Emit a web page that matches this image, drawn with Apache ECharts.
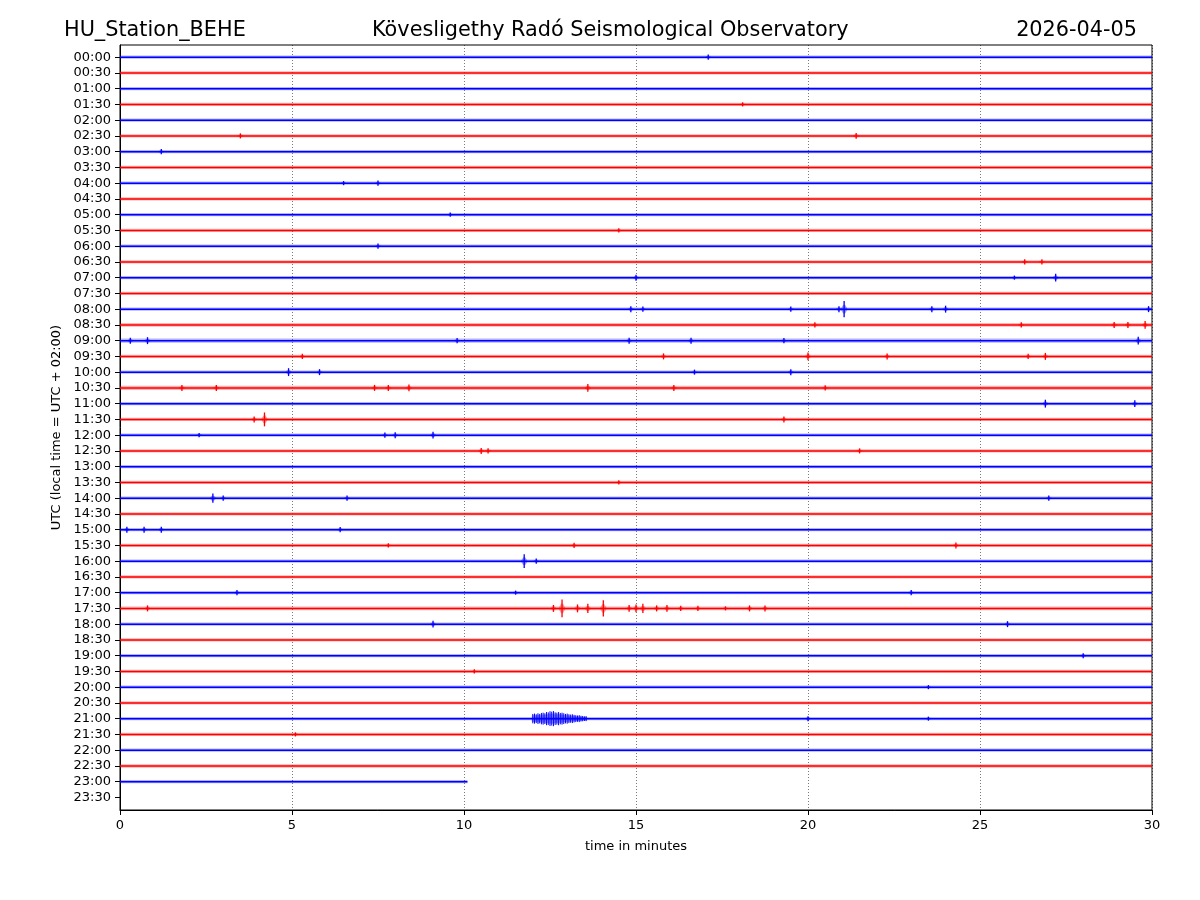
<!DOCTYPE html>
<html>
<head>
<meta charset="utf-8">
<script src="https://cdn.jsdelivr.net/npm/echarts@6/dist/echarts.min.js"></script>
<style>
html,body{margin:0;padding:0;background:#fff;}
#chart{width:1200px;height:900px;}
</style>
</head>
<body>
<div id="chart"></div>
<script>
// Row tick labels (UTC), top to bottom
const ROW_LABELS = ["00:00","00:30","01:00","01:30","02:00","02:30","03:00","03:30","04:00","04:30",
  "05:00","05:30","06:00","06:30","07:00","07:30","08:00","08:30","09:00","09:30",
  "10:00","10:30","11:00","11:30","12:00","12:30","13:00","13:30","14:00","14:30",
  "15:00","15:30","16:00","16:30","17:00","17:30","18:00","18:30","19:00","19:30",
  "20:00","20:30","21:00","21:30","22:00","22:30","23:00","23:30"];
// Minute at which each row's recording ends (null = no data)
const ROW_END = [30,30,30,30,30,30,30,30,30,30,30,30,30,30,30,30,30,30,30,30,
  30,30,30,30,30,30,30,30,30,30,30,30,30,30,30,30,30,30,30,30,
  30,30,30,30,30,30,10.1,null];
// Background noise half-amplitude per row (1 = 1/100 of row spacing)
const ROW_NOISE = [10,10,10,10,10,11,10,10,10,10,10,10,10,10,10,10,11,12,13,11,
  11,13,11,11,11,11,10,10,10,10,10,10,10,10,10,12,10,10,10,10,
  10,10,10,10,10,11,10,null];
// Transient events: [row, minute, half-amplitude]
const EVENTS = [
  [0,17.1,16],[3,18.1,13],[5,3.5,16],[5,21.4,19],[6,1.2,16],[8,6.5,13],[8,7.5,16],
  [10,9.6,13],[11,14.5,13],[12,7.5,16],[13,26.3,16],[13,26.8,16],
  [14,15.0,19],[14,26.0,13],[14,27.2,25],
  [16,14.85,19],[16,15.2,16],[16,19.5,16],[16,20.9,19],[16,21.05,51],[16,23.6,19],[16,24.0,22],[16,29.9,19],
  [17,20.2,16],[17,26.2,16],[17,28.9,19],[17,29.3,19],[17,29.8,25],
  [18,0.3,19],[18,0.8,22],[18,9.8,16],[18,14.8,19],[18,16.6,19],[18,19.3,16],[18,29.6,25],
  [19,5.3,16],[19,15.8,19],[19,20.0,25],[19,22.3,19],[19,26.4,16],[19,26.9,22],
  [20,4.9,25],[20,5.8,19],[20,16.7,16],[20,19.5,19],
  [21,1.8,19],[21,2.8,19],[21,7.4,19],[21,7.8,19],[21,8.4,22],[21,13.6,25],[21,16.1,19],[21,20.5,16],
  [22,26.9,25],[22,29.5,22],
  [23,3.9,19],[23,4.2,44],[23,19.3,19],
  [24,2.3,13],[24,7.7,16],[24,8.0,19],[24,9.1,22],
  [25,10.5,19],[25,10.7,16],[25,21.5,16],
  [27,14.5,13],
  [28,2.7,29],[28,3.0,16],[28,6.6,16],[28,27.0,16],
  [30,0.2,19],[30,0.7,19],[30,1.2,19],[30,6.4,16],
  [31,7.8,13],[31,13.2,16],[31,24.3,19],
  [32,11.75,44],[32,12.1,16],
  [34,3.4,16],[34,11.5,13],[34,23.0,16],
  [35,0.8,19],[35,12.6,22],[35,12.85,57],[35,13.3,25],[35,13.6,29],[35,14.05,51],[35,14.8,22],[35,15.0,25],
  [35,15.2,29],[35,15.6,19],[35,15.9,22],[35,16.3,16],[35,16.8,16],[35,17.6,13],[35,18.3,19],[35,18.75,19],
  [36,9.1,22],[36,25.8,19],
  [38,28.0,16],[39,10.3,13],[40,23.5,13],
  [42,20.0,16],[42,23.5,13],
  [43,5.1,13]
];
// Wave trains: row, start minute, sample step (minutes), envelope half-amplitudes
const BURST_ROW = [42];
const BURST_START = [12.0];
const BURST_STEP = [0.05];
const BURST_AMPS = [[30,32,28,34,30,36,38,34,42,40,47,44,48,40,38,42,36,38,34,30,32,28,26,28,24,22,20,22,18,17,15,16]];
const X_TICKS = [0,5,10,15,20,25,30];
const COLORS = ['#0000ff','#ff0000'];

const rowData = [];
ROW_END.forEach((e, i) => { if (e !== null) rowData.push([i, 0, e, ROW_NOISE[i]]); });
const burstData = [];
BURST_ROW.forEach((r, b) => {
  BURST_AMPS[b].forEach((a, k) => burstData.push([r, +(BURST_START[b] + k*BURST_STEP[b]).toFixed(3), a]));
});

const chart = echarts.init(document.getElementById('chart'), null, {renderer:'canvas'});
const FONT = 'DejaVu Sans';
function eventItem(params, api){
  const row = api.value(0);
  const p = api.coord([api.value(1), row]);
  const a = api.size([0, api.value(2)/100])[1];
  const c = COLORS[row % 2];
  return {type:'group', children:[
    {type:'polygon', shape:{points:[[p[0]-3.5,p[1]],[p[0]-1,p[1]-a*0.55],[p[0]+1,p[1]-a*0.55],[p[0]+3.5,p[1]],[p[0]+1,p[1]+a*0.55],[p[0]-1,p[1]+a*0.55]]}, style:{fill:c, opacity:0.4}},
    {type:'line', shape:{x1:p[0], y1:p[1]-a, x2:p[0], y2:p[1]+a}, style:{stroke:c, lineWidth:1.3}}
  ]};
}
chart.setOption({
  animation: false,
  textStyle: {fontFamily: FONT},
  title: [
    {text:'HU_Station_BEHE', left:59, top:15, textStyle:{fontSize:20.8, fontWeight:'normal', color:'#000', fontFamily:FONT}},
    {text:'Kövesligethy Radó Seismological Observatory', left:367, top:15, textStyle:{fontSize:20.8, fontWeight:'normal', color:'#000', fontFamily:FONT}},
    {text:'2026-04-05', right:58, top:15, textStyle:{fontSize:20.8, fontWeight:'normal', color:'#000', fontFamily:FONT}}
  ],
  grid: {left:120, right:48, top:45, bottom:90, show:true, borderColor:'#000', borderWidth:1, backgroundColor:'transparent'},
  xAxis: {
    type:'value', min:0, max:30, interval:5, position:'bottom',
    name:'time in minutes', nameLocation:'middle', nameGap:30,
    nameTextStyle:{fontSize:13, color:'#000', fontFamily:FONT},
    axisLine:{show:true, onZero:false, lineStyle:{color:'#000', width:1}},
    axisTick:{show:true, inside:false, length:5, lineStyle:{color:'#000'}},
    axisLabel:{fontSize:13, color:'#000', margin:9, fontFamily:FONT, formatter: v => X_TICKS.includes(v) ? String(v) : ''},
    splitLine:{show:true, lineStyle:{color:'#000', width:0.7, type:[1,2], opacity:0.75}}
  },
  yAxis: {
    type:'value', min:-0.77, max:47.8, inverse:true, position:'left',
    name:'UTC (local time = UTC + 02:00)', nameLocation:'middle', nameGap:56,
    nameTextStyle:{fontSize:13, color:'#000', fontFamily:FONT},
    axisLine:{show:true, onZero:false, lineStyle:{color:'#000', width:1}},
    axisTick:{show:true, length:5, lineStyle:{color:'#000'}, customValues: ROW_LABELS.map((_, i) => i)},
    axisLabel:{fontSize:13, color:'#000', margin:9, fontFamily:FONT,
      customValues: ROW_LABELS.map((_, i) => i),
      formatter: v => ROW_LABELS[Math.round(v)] || ''},
    splitLine:{show:false}
  },
  series: [
    {
      type:'custom', name:'traces', clip:true,
      encode:{x:[1,2], y:0},
      data: rowData,
      renderItem: function(params, api){
        const row = api.value(0);
        const p0 = api.coord([api.value(1), row]);
        const p1 = api.coord([api.value(2), row]);
        const h = api.size([0, api.value(3)/100])[1];
        const c = COLORS[row % 2];
        return {type:'group', children:[
          {type:'rect', shape:{x:p0[0], y:p0[1]-h, width:p1[0]-p0[0], height:2*h}, style:{fill:c, opacity:0.3}},
          {type:'line', shape:{x1:p0[0], y1:p0[1], x2:p1[0], y2:p1[1]}, style:{stroke:c, lineWidth:1.5}}
        ]};
      }
    },
    {
      type:'custom', name:'events', clip:true,
      encode:{x:1, y:0},
      data: EVENTS,
      renderItem: eventItem
    },
    {
      type:'custom', name:'bursts', clip:true,
      encode:{x:1, y:0},
      data: burstData,
      renderItem: function(params, api){
        const row = api.value(0);
        const p = api.coord([api.value(1), row]);
        const a = api.size([0, api.value(2)/100])[1];
        const c = COLORS[row % 2];
        return {type:'group', children:[
          {type:'rect', shape:{x:p[0]-1, y:p[1]-a*0.7, width:2, height:a*1.4}, style:{fill:c, opacity:0.35}},
          {type:'line', shape:{x1:p[0], y1:p[1]-a, x2:p[0], y2:p[1]+a}, style:{stroke:c, lineWidth:1}}
        ]};
      }
    }
  ]
});
</script>
</body>
</html>
